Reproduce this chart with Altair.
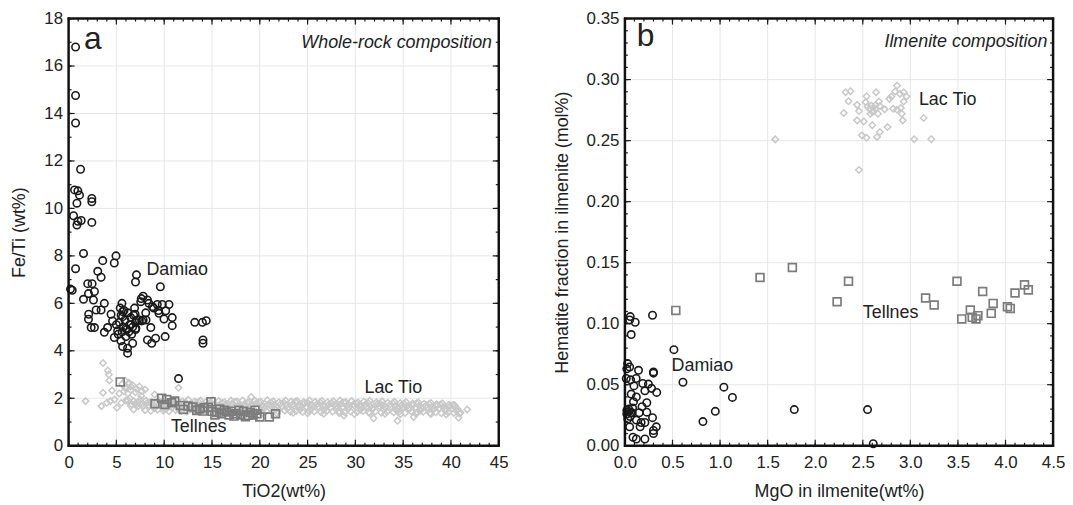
import altair as alt
import pandas as pd
import numpy as np

# ---------------- Panel a: whole-rock ----------------
dam_a_x = [0.73, 0.73, 0.73, 1.25, 0.62, 0.97, 1.14, 0.87, 2.43, 2.43, 0.52, 0.87, 0.97, 1.32, 2.43,
           1.56, 4.96, 3.57, 4.78, 0.73, 3.05, 7.1, 3.4, 7.0, 0.38, 2.0, 2.46, 2.08, 2.7, 1.56, 2.6,
           9.6, 7.8, 7.55, 8.25, 8.77, 3.74, 5.58, 2.88, 3.4, 2.1, 2.08, 4.44, 4.6, 5.65, 5.65, 6.96,
           7.65, 8.07, 9.28, 9.46, 9.8, 10.5, 10.16, 9.98, 10.84, 10.84, 2.36, 2.7, 4.08, 3.74, 4.78,
           5.13, 5.48, 5.65, 6.17, 6.17, 6.7, 6.0, 6.5, 7.04, 8.6, 8.25, 8.7, 9.1, 10.1, 13.2, 14.0,
           14.4, 14.06, 14.06, 11.5, 5.3, 5.5, 5.7, 5.9, 6.1, 6.2, 6.4, 6.5, 6.7, 6.8, 7.0, 7.2, 5.6,
           6.0, 6.3, 6.6, 7.0, 5.8, 6.9, 7.4, 7.8, 8.1, 5.4, 5.0, 5.2, 0.2, 8.4, 8.9, 9.4, 7.6]
dam_a_y = [16.8, 14.76, 13.6, 11.65, 10.78, 10.74, 10.56, 10.22, 10.42, 10.28, 9.69, 9.3, 9.46, 9.49, 9.41,
           8.1, 8.0, 7.8, 7.7, 7.46, 7.35, 7.2, 7.1, 6.9, 6.55, 6.83, 6.83, 6.41, 6.5, 6.17, 6.14,
           6.7, 6.3, 6.07, 6.14, 5.86, 6.0, 6.0, 5.72, 5.72, 5.54, 5.33, 5.54, 5.26, 5.65, 5.44, 5.54,
           5.26, 5.6, 5.95, 5.58, 5.95, 5.95, 5.69, 5.34, 5.4, 5.06, 4.98, 4.98, 4.98, 4.78, 4.56,
           4.84, 4.42, 4.18, 3.9, 4.11, 4.32, 4.95, 5.09, 4.95, 4.98, 4.46, 4.32, 4.53, 4.6, 5.2, 5.2,
           5.27, 4.46, 4.32, 2.83, 5.2, 5.5, 5.0, 5.3, 4.9, 5.6, 5.1, 5.4, 5.0, 5.5, 5.2, 5.3, 4.8,
           4.6, 4.8, 4.7, 4.9, 5.7, 5.8, 5.3, 5.3, 5.3, 5.8, 5.1, 4.7, 6.6, 6.0, 5.8, 5.7, 6.2]

tel_a_x = [5.4, 9.04, 9.74, 10.26, 10.08, 10.78, 11.1, 12.0, 12.5, 13.0, 13.4, 14.2, 14.9, 14.06,
           20.0, 21.0, 21.65, 15.0, 15.5, 16.0, 16.3, 16.8, 17.0, 17.5, 18.0, 18.3, 18.7, 19.0,
           19.3, 19.7, 15.8, 17.3, 18.5, 19.5, 16.5, 17.8, 15.3, 11.7, 13.7, 14.6]
tel_a_y = [2.69, 1.77, 2.0, 1.95, 1.74, 1.81, 1.88, 1.53, 1.67, 1.63, 1.49, 1.6, 1.85, 1.46,
           1.21, 1.21, 1.35, 1.45, 1.4, 1.35, 1.5, 1.3, 1.45, 1.35, 1.3, 1.45, 1.28, 1.4,
           1.3, 1.35, 1.55, 1.25, 1.22, 1.5, 1.42, 1.5, 1.3, 1.7, 1.55, 1.62]

lac_a_x = [1.77, 3.6, 4.1, 4.2, 4.26, 3.6, 3.43, 4.0, 4.37, 4.54, 5.06, 6.8, 7.3, 8.0, 7.66, 9.0,
           11.5, 28.8, 31.9, 34.4, 36.1, 40.8, 41.7, 19.1, 5.6, 5.9, 6.2, 6.5, 6.0, 6.4, 5.8, 7.0,
           6.6, 7.6, 5.3, 4.8, 5.5, 6.3, 5.9, 6.3, 6.7, 7.1, 6.0, 6.5, 7.4,
           6.2, 6.8, 7.5, 8.1, 8.7, 9.4, 10.0, 10.6, 11.3, 11.9, 12.5, 13.2, 13.8, 14.4, 15.1, 15.7,
           16.3, 17.0, 17.6, 18.2, 18.9, 19.5, 20.1, 20.8, 21.4, 22.0, 22.7, 23.3, 23.9, 24.6, 25.2,
           25.8, 26.5, 27.1, 27.7, 28.4, 29.0, 29.6, 30.3, 30.9, 31.5, 32.2, 32.8, 33.4, 34.1, 34.7,
           35.3, 36.0, 36.6, 37.2, 37.9, 38.5, 39.1, 39.8, 40.4,
           6.5, 7.1, 7.8, 8.4, 9.0, 9.7, 10.3, 10.9, 11.6, 12.2, 12.8, 13.5, 14.1, 14.7, 15.4, 16.0,
           16.6, 17.3, 17.9, 18.5, 19.2, 19.8, 20.4, 21.1, 21.7, 22.3, 23.0, 23.6, 24.2, 24.9, 25.5,
           26.1, 26.8, 27.4, 28.0, 28.7, 29.3, 29.9, 30.6, 31.2, 31.8, 32.5, 33.1, 33.7, 34.4, 35.0,
           35.6, 36.3, 36.9, 37.5, 38.2, 38.8, 39.4, 40.1, 40.7,
           8.0, 8.6, 9.3, 9.9, 10.5, 11.2, 11.8, 12.4, 13.1, 13.7, 14.3, 15.0, 15.6, 16.2, 16.9, 17.5,
           18.1, 18.8, 19.4, 20.0, 20.7, 21.3, 21.9, 22.6, 23.2, 23.8, 24.5, 25.1, 25.7, 26.4, 27.0,
           27.6, 28.3, 28.9, 29.5, 30.2, 30.8, 31.4, 32.1, 32.7, 33.3, 34.0, 34.6, 35.2, 35.9, 36.5,
           37.1, 37.8, 38.4, 39.0, 39.7, 40.3, 40.9,
           7.0, 8.2, 9.5, 10.8, 12.0, 13.3, 14.6, 15.8, 17.1, 18.4, 19.6, 20.9, 22.2, 23.4, 24.7, 26.0,
           27.2, 28.5, 29.8, 31.0, 32.3, 33.6, 34.8, 36.1, 37.4, 38.6, 39.9,
           9.0, 10.2, 11.5, 12.8, 14.0, 15.3, 16.6, 17.8, 19.1, 20.4, 21.6, 22.9, 24.2, 25.4, 26.7, 28.0,
           29.2, 30.5, 31.8, 33.0, 34.3, 35.6, 36.8, 38.1, 39.4, 40.6,
           7.6, 8.9, 10.1, 11.4, 12.6, 13.9, 15.2, 16.4, 17.7, 19.0, 20.2, 21.5, 22.8, 24.0, 25.3, 26.6,
           27.8, 29.1, 30.4, 31.6, 32.9, 34.2, 35.4, 36.7, 38.0, 39.2, 40.5,
           10.0, 11.6, 13.4, 15.6, 17.2, 18.6, 20.3, 21.8, 23.5, 25.0, 26.7, 28.3, 29.9, 31.5, 33.1, 34.7,
           36.3, 37.9, 39.5, 41.0,
           7.3, 8.5, 9.8, 11.0, 12.3, 13.6, 14.9, 16.1, 17.4, 18.7, 19.9, 21.2, 22.5, 23.7, 25.0, 26.3,
           27.5, 28.8, 30.1, 31.3, 32.6, 33.9, 35.1, 36.4, 37.7, 38.9, 40.2]
lac_a_y = [1.88, 3.49, 3.17, 3.0, 2.75, 2.23, 1.67, 1.81, 1.88, 2.33, 1.6, 1.53, 1.67, 2.37, 2.3, 2.16,
           2.44, 1.26, 1.16, 1.05, 1.21, 1.18, 1.53, 2.05, 2.6, 2.45, 2.2, 2.5, 1.9, 2.0, 2.3, 2.25,
           1.75, 2.1, 2.2, 1.95, 1.8, 2.65, 2.75, 2.6, 2.55, 2.4, 2.4, 2.35, 2.5,
           1.92, 1.88, 1.95, 1.90, 1.86, 1.93, 1.89, 1.84, 1.91, 1.87, 1.94, 1.86, 1.90, 1.85, 1.92, 1.88,
           1.83, 1.90, 1.86, 1.91, 1.84, 1.89, 1.85, 1.92, 1.87, 1.83, 1.90, 1.86, 1.88, 1.84, 1.91,
           1.85, 1.89, 1.83, 1.87, 1.90, 1.84, 1.88, 1.82, 1.86, 1.89, 1.83, 1.87, 1.81, 1.85, 1.80,
           1.84, 1.78, 1.82, 1.77, 1.80, 1.75, 1.78, 1.73, 1.70,
           1.68, 1.72, 1.65, 1.70, 1.66, 1.73, 1.67, 1.64, 1.70, 1.66, 1.71, 1.63, 1.68, 1.65, 1.70, 1.64,
           1.67, 1.62, 1.69, 1.65, 1.68, 1.63, 1.66, 1.70, 1.64, 1.67, 1.62, 1.68, 1.65, 1.63, 1.69,
           1.64, 1.66, 1.61, 1.67, 1.64, 1.62, 1.68, 1.63, 1.65, 1.60, 1.66, 1.62, 1.64, 1.59, 1.63,
           1.60, 1.62, 1.58, 1.61, 1.57, 1.59, 1.55, 1.57, 1.54,
           1.50, 1.47, 1.52, 1.48, 1.45, 1.51, 1.47, 1.44, 1.49, 1.46, 1.50, 1.43, 1.47, 1.45, 1.49, 1.42,
           1.46, 1.44, 1.48, 1.43, 1.46, 1.41, 1.45, 1.48, 1.43, 1.46, 1.42, 1.47, 1.44, 1.41, 1.46,
           1.43, 1.45, 1.40, 1.44, 1.42, 1.46, 1.41, 1.44, 1.39, 1.43, 1.41, 1.44, 1.38, 1.42, 1.40,
           1.43, 1.38, 1.41, 1.37, 1.40, 1.38, 1.36,
           1.78, 1.80, 1.76, 1.79, 1.75, 1.78, 1.77, 1.74, 1.79, 1.76, 1.78, 1.75, 1.77, 1.74, 1.78, 1.76,
           1.73, 1.77, 1.75, 1.72, 1.76, 1.73, 1.71, 1.74, 1.70, 1.72, 1.66,
           1.58, 1.55, 1.57, 1.54, 1.56, 1.53, 1.57, 1.55, 1.52, 1.56, 1.54, 1.57, 1.53, 1.55, 1.52, 1.56,
           1.54, 1.51, 1.55, 1.52, 1.50, 1.53, 1.49, 1.51, 1.48, 1.46,
           1.73, 1.70, 1.74, 1.71, 1.69, 1.72, 1.70, 1.73, 1.68, 1.71, 1.69, 1.72, 1.70, 1.67, 1.71, 1.69,
           1.72, 1.68, 1.70, 1.66, 1.69, 1.67, 1.65, 1.68, 1.64, 1.62, 1.60,
           1.55, 1.50, 1.47, 1.40, 1.37, 1.35, 1.38, 1.36, 1.39, 1.37, 1.35, 1.38, 1.34, 1.37, 1.35, 1.33,
           1.36, 1.34, 1.32, 1.40,
           1.85, 1.82, 1.86, 1.83, 1.81, 1.84, 1.82, 1.80, 1.84, 1.81, 1.83, 1.80, 1.82, 1.85, 1.81, 1.83,
           1.80, 1.82, 1.79, 1.81, 1.78, 1.80, 1.77, 1.79, 1.76, 1.74, 1.72]

# ---------------- Panel b: ilmenite ----------------
dam_b_x = [0.29, 0.056, 0.05, 0.108, 0.066, 0.515, 0.028, 0.05, 0.143, 0.30, 0.30, 0.02, 0.014, 0.06,
           0.118, 0.188, 0.247, 0.28, 0.095, 0.21, 0.334, 0.61, 1.04, 1.13, 0.066, 0.12, 0.09, 0.23,
           0.18, 0.02, 0.04, 0.075, 0.15, 0.23, 0.29, 0.055, 0.12, 0.17, 0.21, 0.05, 0.16, 0.33, 0.30,
           0.30, 0.085, 0.12, 0.21, 0.82, 0.95, 1.78, 2.55, 2.61, 0.02, 0.04, 0.06, 0.03, 0.08]
dam_b_y = [0.1069, 0.1058, 0.1031, 0.1012, 0.0911, 0.0787, 0.0673, 0.0645, 0.0618, 0.0605, 0.0595, 0.063,
           0.0551, 0.054, 0.0551, 0.051, 0.0505, 0.047, 0.049, 0.045, 0.0437, 0.052, 0.048, 0.0396,
           0.0423, 0.040, 0.036, 0.0352, 0.032, 0.029, 0.028, 0.027, 0.027, 0.0275, 0.023, 0.024,
           0.021, 0.019, 0.019, 0.0155, 0.0155, 0.0155, 0.0125, 0.010, 0.007, 0.0055, 0.0055, 0.0198,
           0.0282, 0.0296, 0.0296, 0.0016, 0.026, 0.030, 0.027, 0.022, 0.031]

tel_b_x = [0.535, 1.42, 1.76, 2.23, 2.35, 3.16, 3.25, 3.49, 3.54, 3.63, 3.65, 3.69, 3.71, 3.76, 3.85,
           3.87, 4.02, 4.05, 4.10, 4.20, 4.24]
tel_b_y = [0.1109, 0.1378, 0.1460, 0.1180, 0.1348, 0.1210, 0.1153, 0.1348, 0.1039, 0.1112, 0.1052,
           0.1039, 0.1066, 0.1264, 0.1085, 0.1166, 0.1139, 0.1125, 0.1251, 0.1318, 0.1277]

lac_b_x = [1.58, 2.30, 2.32, 2.37, 2.35, 2.44, 2.46, 2.44, 2.51, 2.49, 2.54, 2.46, 2.54, 2.53, 2.64,
           2.60, 2.65, 2.68, 2.59, 2.60, 2.63, 2.67, 2.68, 2.66, 2.73, 2.76, 2.78, 2.80, 2.84, 2.86,
           2.89, 2.93, 2.96, 2.93, 2.82, 2.86, 2.90, 2.91, 2.92, 3.04, 3.14, 3.22, 2.57, 2.61, 2.55,
           2.63, 2.58]
lac_b_y = [0.251, 0.2726, 0.2897, 0.2905, 0.2823, 0.2793, 0.2742, 0.2666, 0.2657, 0.2543, 0.2524, 0.2259,
           0.2864, 0.2815, 0.2897, 0.2626, 0.2530, 0.2571, 0.2788, 0.2734, 0.2761, 0.2821, 0.2783,
           0.2720, 0.2756, 0.2612, 0.2842, 0.2862, 0.2902, 0.2951, 0.2883, 0.2897, 0.2862, 0.2821,
           0.2761, 0.2753, 0.2767, 0.2720, 0.2666, 0.2511, 0.2685, 0.2511, 0.276, 0.274, 0.278,
           0.279, 0.272]

FONT = "Liberation Sans"
BLACK = "#1a1a1a"
TEL = "#7c7c7c"
LAC = "#c8c8c8"
GRID = "#e6e6e6"
WA, WB, H = 433, 431, 430


def grid_layers(xmax, xmaj, ymax, ymaj, xs, ys, w, h):
    gx = np.round(np.arange(xmaj, xmax - xmaj / 2, xmaj), 6)
    gy = np.round(np.arange(ymaj, ymax - ymaj / 2, ymaj), 6)
    return [
        alt.Chart(pd.DataFrame({"v": gx})).mark_rule(color=GRID, strokeWidth=1).encode(
            x=alt.X("v:Q", scale=xs), y=alt.value(0), y2=alt.value(h)),
        alt.Chart(pd.DataFrame({"v": gy})).mark_rule(color=GRID, strokeWidth=1).encode(
            y=alt.Y("v:Q", scale=ys), x=alt.value(0), x2=alt.value(w)),
    ]


def tick_layers(xmax, xmaj, xminor, ymax, ymaj, yminor, xs, ys, w, h):
    layers = []
    for step, L in [(xmaj, 6), (xminor, 3)]:
        vals = np.round(np.arange(0, xmax + step / 2, step), 6)
        base = alt.Chart(pd.DataFrame({"v": vals})).mark_rule(color=BLACK, strokeWidth=1.2)
        layers.append(base.encode(x=alt.X("v:Q", scale=xs), y=alt.value(h), y2=alt.value(h - L)))
        layers.append(base.encode(x=alt.X("v:Q", scale=xs), y=alt.value(0), y2=alt.value(L)))
    for step, L in [(ymaj, 6), (yminor, 3)]:
        vals = np.round(np.arange(0, ymax + step / 2, step), 6)
        base = alt.Chart(pd.DataFrame({"v": vals})).mark_rule(color=BLACK, strokeWidth=1.2)
        layers.append(base.encode(y=alt.Y("v:Q", scale=ys), x=alt.value(0), x2=alt.value(L)))
        layers.append(base.encode(y=alt.Y("v:Q", scale=ys), x=alt.value(w), x2=alt.value(w - L)))
    # frame
    one = pd.DataFrame({"k": [0]})
    fr = alt.Chart(one).mark_rule(color="#111111", strokeWidth=2.5)
    layers.append(fr.encode(x=alt.value(-1), x2=alt.value(w + 1), y=alt.value(0)))
    layers.append(fr.encode(x=alt.value(-1), x2=alt.value(w + 1), y=alt.value(h)))
    layers.append(fr.encode(y=alt.value(-1), y2=alt.value(h + 1), x=alt.value(0)))
    layers.append(fr.encode(y=alt.value(-1), y2=alt.value(h + 1), x=alt.value(w)))
    return layers


def pts(xv, yv, xs, ys, shape, color, size, sw, xt, yt, xfmt, yfmt, xvals, yvals):
    df = pd.DataFrame({"x": xv, "y": yv})
    return alt.Chart(df).mark_point(shape=shape, color=color, size=size, strokeWidth=sw,
                                    filled=False, opacity=1).encode(
        x=alt.X("x:Q", scale=xs, title=xt, axis=alt.Axis(values=xvals, format=xfmt)),
        y=alt.Y("y:Q", scale=ys, title=yt, axis=alt.Axis(values=yvals, format=yfmt)),
    )


def text(label, x, y, xs, ys, size, align="left", italic=False):
    df = pd.DataFrame({"x": [x], "y": [y], "t": [label]})
    return alt.Chart(df).mark_text(align=align, baseline="middle", fontSize=size, font=FONT,
                                   fontStyle="italic" if italic else "normal",
                                   color="#222222").encode(
        x=alt.X("x:Q", scale=xs), y=alt.Y("y:Q", scale=ys), text="t:N")


# Panel a
xa = alt.Scale(domain=[0, 45], nice=False, zero=False)
ya = alt.Scale(domain=[0, 18], nice=False, zero=False)
xa_vals = list(range(0, 46, 5))
ya_vals = list(range(0, 19, 2))
ta = ("TiO2(wt%)", "Fe/Ti (wt%)")
pa = alt.layer(
    *grid_layers(45, 5, 18, 2, xa, ya, WA, H),
    pts(lac_a_x, lac_a_y, xa, ya, "diamond", LAC, 42, 1.5, *ta, "d", "d", xa_vals, ya_vals),
    pts(tel_a_x, tel_a_y, xa, ya, "square", TEL, 62, 1.7, *ta, "d", "d", xa_vals, ya_vals),
    pts(dam_a_x, dam_a_y, xa, ya, "circle", BLACK, 56, 1.6, *ta, "d", "d", xa_vals, ya_vals),
    *tick_layers(45, 5, 1, 18, 2, 1, xa, ya, WA, H),
    text("a", 1.6, 17.15, xa, ya, 32),
    text("Whole-rock composition", 44.3, 16.95, xa, ya, 18, align="right", italic=True),
    text("Damiao", 8.14, 7.39, xa, ya, 18),
    text("Tellnes", 10.7, 0.79, xa, ya, 18),
    text("Lac Tio", 30.95, 2.44, xa, ya, 18),
).properties(width=WA, height=H)

# Panel b
xb = alt.Scale(domain=[0, 4.5], nice=False, zero=False)
yb = alt.Scale(domain=[0, 0.35], nice=False, zero=False)
xb_vals = [0.0, 0.5, 1.0, 1.5, 2.0, 2.5, 3.0, 3.5, 4.0, 4.5]
yb_vals = [0.0, 0.05, 0.10, 0.15, 0.20, 0.25, 0.30, 0.35]
tb = ("MgO in ilmenite(wt%)", "Hematite fraction in ilmenite (mol%)")
pb = alt.layer(
    *grid_layers(4.5, 0.5, 0.35, 0.05, xb, yb, WB, H),
    pts(lac_b_x, lac_b_y, xb, yb, "diamond", LAC, 42, 1.5, *tb, ".1f", ".2f", xb_vals, yb_vals),
    pts(tel_b_x, tel_b_y, xb, yb, "square", TEL, 62, 1.7, *tb, ".1f", ".2f", xb_vals, yb_vals),
    pts(dam_b_x, dam_b_y, xb, yb, "circle", BLACK, 56, 1.6, *tb, ".1f", ".2f", xb_vals, yb_vals),
    *tick_layers(4.5, 0.5, 0.1, 0.35, 0.05, 0.01, xb, yb, WB, H),
    text("b", 0.125, 0.336, xb, yb, 32),
    text("Ilmenite composition", 4.44, 0.3304, xb, yb, 18, align="right", italic=True),
    text("Lac Tio", 3.09, 0.283, xb, yb, 18),
    text("Tellnes", 2.50, 0.1088, xb, yb, 18),
    text("Damiao", 0.49, 0.0651, xb, yb, 18),
).properties(width=WB, height=H)

chart = alt.hconcat(pa, pb, spacing=44).configure_view(
    stroke=None
).configure_axis(
    labelFont=FONT, titleFont=FONT, labelFontSize=17, titleFontSize=18,
    labelColor="#222222", titleColor="#222222", titleFontWeight="normal",
    domain=False, ticks=False, grid=False, labelFlush=False, labelOverlap=False,
).configure_axisX(
    labelPadding=9, titlePadding=12
).configure_axisY(
    labelPadding=6, titlePadding=15
).properties(padding={"left": 3, "top": 0, "right": 0, "bottom": 0})

chart.save("out.html", embed_options={"renderer": "svg", "actions": False})
